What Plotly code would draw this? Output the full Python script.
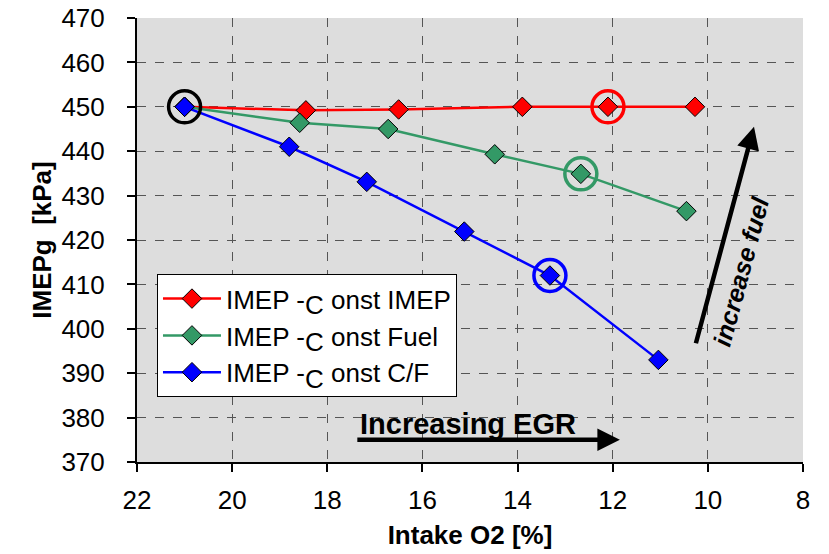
import plotly.graph_objects as go

# Data
red_x = [21.0, 18.45, 16.5, 13.9, 12.1, 10.27]
red_y = [450.0, 449.2, 449.4, 450.0, 450.0, 450.0]
green_x = [21.0, 18.58, 16.72, 14.48, 12.67, 10.45]
green_y = [450.0, 446.4, 445.0, 439.3, 434.9, 426.5]
blue_x = [21.0, 18.8, 17.17, 15.12, 13.32, 11.04]
blue_y = [450.0, 441.0, 433.1, 421.9, 412.0, 393.0]
SUBC = "<sub><span style='font-size:26px'>C</span></sub>"
names = ["IMEP -" + SUBC + " onst IMEP", "IMEP -" + SUBC + " onst Fuel", "IMEP -" + SUBC + " onst C/F"]
colors = ["#ff0000", "#339966", "#0000ff"]

# highlighted points
circ_x = [21.0, 12.1, 12.67, 13.32]
circ_y = [450.0, 450.0, 434.9, 412.0]
circ_c = ["#000000", "#ff0000", "#339966", "#0000ff"]

x_ticks = [22, 20, 18, 16, 14, 12, 10, 8]
y_ticks = [370, 380, 390, 400, 410, 420, 430, 440, 450, 460, 470]

FONT = "Liberation Sans, Arial, sans-serif"

fig = go.Figure()
for xs, ys, nm, c in [(red_x, red_y, names[0], colors[0]),
                      (green_x, green_y, names[1], colors[1]),
                      (blue_x, blue_y, names[2], colors[2])]:
    fig.add_trace(go.Scatter(
        x=xs, y=ys, name=nm, mode="lines+markers",
        line=dict(color=c, width=2.5),
        marker=dict(symbol="diamond", size=15, color=c, line=dict(color="black", width=1)),
    ))

fig.add_trace(go.Scatter(
    x=circ_x, y=circ_y, mode="markers", showlegend=False, hoverinfo="skip",
    marker=dict(symbol="circle-open", size=32, color=circ_c, line=dict(width=3.5, color=circ_c)),
))

# Arrows
fig.add_annotation(x=11.85, y=375.0, ax=17.4, ay=375.0, xref="x", yref="y", axref="x", ayref="y",
                   showarrow=True, arrowhead=2, arrowsize=1.0, arrowwidth=4.5, arrowcolor="black", text="")
fig.add_annotation(x=15.05, y=378.6, xref="x", yref="y", showarrow=False,
                   text="<b>Increasing EGR</b>", font=dict(family=FONT, size=29, color="black"))
fig.add_annotation(x=9.03, y=445.5, ax=10.26, ay=396.4, xref="x", yref="y", axref="x", ayref="y",
                   showarrow=True, arrowhead=2, arrowsize=1.0, arrowwidth=4.5, arrowcolor="black", text="")
fig.add_annotation(x=9.3, y=413.0, xref="x", yref="y", showarrow=False, textangle=-75,
                   text="<b><i>increase fuel</i></b>", font=dict(family=FONT, size=25, color="black"))

axis_common = dict(
    showline=True, linecolor="black", linewidth=2, mirror=False, automargin=False,
    ticks="outside", ticklen=8, tickwidth=2, tickcolor="black",
    showgrid=True, gridcolor="#555555", gridwidth=1, griddash="dash",
    zeroline=False, tickfont=dict(family=FONT, size=26, color="black"),
)

fig.update_layout(
    width=829, height=554,
    margin=dict(l=137, r=26, t=18, b=92),
    paper_bgcolor="white", plot_bgcolor="#dddddd",
    font=dict(family=FONT, color="black"),
    xaxis=dict(range=[22, 8], tickvals=x_ticks, **axis_common, ticklabelstandoff=6,
               title=dict(text="<b>Intake O2 [%]</b>", font=dict(family=FONT, size=26), standoff=12)),
    yaxis=dict(range=[370, 470], tickvals=y_ticks, **axis_common, ticklabelstandoff=17,
               title=dict(text="<b>IMEPg  [kPa]</b>", font=dict(family=FONT, size=26), standoff=2)),
    legend=dict(x=0.03, y=0.423, xanchor="left", yanchor="top", bgcolor="white",
                bordercolor="black", borderwidth=1, font=dict(family=FONT, size=26),
                tracegroupgap=0, itemwidth=58),
    showlegend=True,
)

fig.write_html("out.html")
